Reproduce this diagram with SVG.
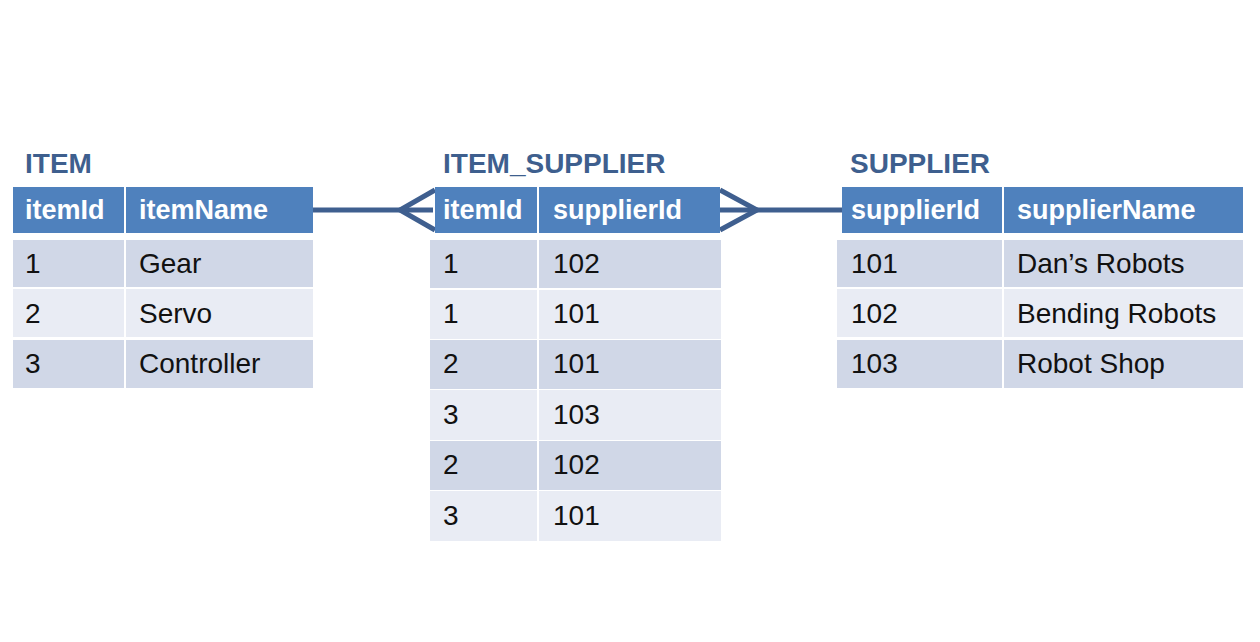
<svg xmlns="http://www.w3.org/2000/svg" width="1260" height="642" viewBox="0 0 1260 642">
<style>
.title{font-family:"Liberation Sans",Arial,sans-serif;font-weight:bold;font-size:28px;fill:#3e5f8e}
.hdr{fill:#4f81bd}
.ht{font-family:"Liberation Sans",Arial,sans-serif;font-weight:bold;font-size:27px;fill:#ffffff}
.dk{fill:#d0d7e7}
.lt{fill:#e9ecf4}
.ct{font-family:"Liberation Sans",Arial,sans-serif;font-size:28px;fill:#111111}
.div{stroke:#ffffff;stroke-width:2}
.conn{stroke:#3f5f8f;stroke-width:5;fill:none;stroke-linejoin:miter}
</style>
<rect width="1260" height="642" fill="#ffffff"/>
<g id="connectors">
<line class="conn" x1="313" y1="210" x2="433" y2="210"/>
<polyline class="conn" points="435,190 400,210 435,230"/>
<line class="conn" x1="720" y1="210" x2="842" y2="210"/>
<polyline class="conn" points="720,190 757,210 720,230"/>
</g>
<g id="item">
<text class="title" x="25" y="173">ITEM</text>
<rect class="hdr" x="13" y="187" width="300" height="46"/>
<line class="div" x1="125" y1="187" x2="125" y2="233"/>
<text class="ht" x="25" y="219">itemId</text>
<text class="ht" x="139" y="219">itemName</text>
<rect class="dk" x="13" y="240" width="300" height="47"/>
<rect class="lt" x="13" y="289" width="300" height="48"/>
<rect class="dk" x="13" y="340" width="300" height="48"/>
<line class="div" x1="125" y1="240" x2="125" y2="388"/>
<text class="ct" x="25" y="273">1</text><text class="ct" x="139" y="273">Gear</text>
<text class="ct" x="25" y="323">2</text><text class="ct" x="139" y="323">Servo</text>
<text class="ct" x="25" y="373">3</text><text class="ct" x="139" y="373">Controller</text>
</g>
<g id="item_supplier">
<text class="title" x="443" y="173">ITEM_SUPPLIER</text>
<rect class="hdr" x="435" y="187" width="285" height="46"/>
<line class="div" x1="538" y1="187" x2="538" y2="233"/>
<text class="ht" x="443" y="219">itemId</text>
<text class="ht" x="553" y="219">supplierId</text>
<rect class="dk" x="430" y="240" width="291" height="48"/>
<rect class="lt" x="430" y="290" width="291" height="49"/>
<rect class="dk" x="430" y="340" width="291" height="49"/>
<rect class="lt" x="430" y="390" width="291" height="50"/>
<rect class="dk" x="430" y="441" width="291" height="49"/>
<rect class="lt" x="430" y="491" width="291" height="50"/>
<line class="div" x1="538" y1="240" x2="538" y2="541"/>
<text class="ct" x="443" y="273">1</text><text class="ct" x="553" y="273">102</text>
<text class="ct" x="443" y="323">1</text><text class="ct" x="553" y="323">101</text>
<text class="ct" x="443" y="373">2</text><text class="ct" x="553" y="373">101</text>
<text class="ct" x="443" y="424">3</text><text class="ct" x="553" y="424">103</text>
<text class="ct" x="443" y="474">2</text><text class="ct" x="553" y="474">102</text>
<text class="ct" x="443" y="525">3</text><text class="ct" x="553" y="525">101</text>
</g>
<g id="supplier">
<text class="title" x="850" y="173">SUPPLIER</text>
<rect class="hdr" x="842" y="187" width="401" height="46"/>
<line class="div" x1="1003" y1="187" x2="1003" y2="233"/>
<text class="ht" x="851" y="219">supplierId</text>
<text class="ht" x="1017" y="219">supplierName</text>
<rect class="dk" x="837" y="240" width="406" height="47"/>
<rect class="lt" x="837" y="289" width="406" height="48"/>
<rect class="dk" x="837" y="340" width="406" height="48"/>
<line class="div" x1="1003" y1="240" x2="1003" y2="388"/>
<text class="ct" x="851" y="273">101</text><text class="ct" x="1017" y="273">Dan’s Robots</text>
<text class="ct" x="851" y="323">102</text><text class="ct" x="1017" y="323">Bending Robots</text>
<text class="ct" x="851" y="373">103</text><text class="ct" x="1017" y="373">Robot Shop</text>
</g>
</svg>
